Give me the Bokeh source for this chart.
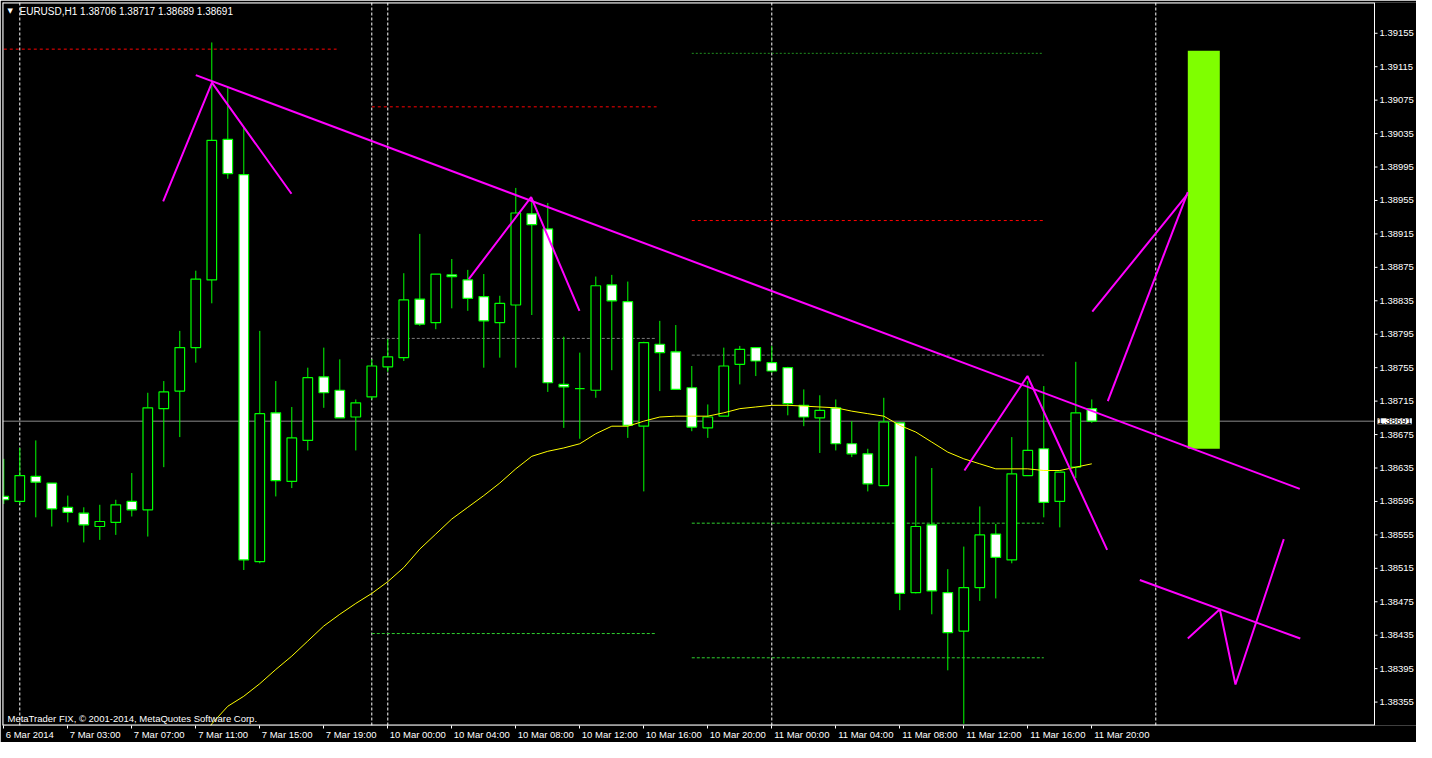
from bokeh.plotting import figure
from bokeh.models import FixedTicker, Label, Span, Range1d, CustomJSTickFormatter
from bokeh.embed import file_html
from bokeh.resources import INLINE
from bokeh.core.properties import value

# ---------------- data (EURUSD H1, bar index 0 = 6 Mar 23:00) ----------------
opens = [1.38601, 1.38595, 1.38625, 1.38617, 1.38588, 1.38581, 1.38565, 1.38570, 1.38595, 1.38585,
         1.38706, 1.38727, 1.38779, 1.38860, 1.39028, 1.38986, 1.38523, 1.38701, 1.38619, 1.38668,
         1.38744, 1.38728, 1.38696, 1.38720, 1.38756, 1.38767, 1.38837, 1.38809, 1.38866, 1.38860,
         1.38840, 1.38809, 1.38830, 1.38939, 1.38921, 1.38735, 1.38730, 1.38728, 1.38854, 1.38834,
         1.38685, 1.38783, 1.38774, 1.38731, 1.38683, 1.38697, 1.38759, 1.38779, 1.38761, 1.38755,
         1.38710, 1.38695, 1.38707, 1.38664, 1.38652, 1.38614, 1.38689, 1.38486, 1.38567, 1.38486,
         1.38440, 1.38492, 1.38556, 1.38525, 1.38626, 1.38658, 1.38595, 1.38636, 1.38706]
highs = [1.38646, 1.38659, 1.38668, 1.38617, 1.38602, 1.38588, 1.38591, 1.38597, 1.38629, 1.38725,
         1.38739, 1.38799, 1.38871, 1.39144, 1.39090, 1.39042, 1.38799, 1.38739, 1.38708, 1.38755,
         1.38779, 1.38765, 1.38717, 1.38765, 1.38789, 1.38868, 1.38915, 1.38867, 1.38885, 1.38872,
         1.38867, 1.38841, 1.38970, 1.38958, 1.38952, 1.38792, 1.38773, 1.38864, 1.38866, 1.38858,
         1.38786, 1.38811, 1.38806, 1.38757, 1.38711, 1.38779, 1.38781, 1.38779, 1.38781, 1.38756,
         1.38729, 1.38722, 1.38717, 1.38691, 1.38658, 1.38719, 1.38690, 1.38649, 1.38635, 1.38514,
         1.38541, 1.38589, 1.38568, 1.38672, 1.38739, 1.38733, 1.38630, 1.38762, 1.38717]
lows = [1.38592, 1.38592, 1.38576, 1.38565, 1.38570, 1.38546, 1.38549, 1.38555, 1.38577, 1.38553,
        1.38636, 1.38672, 1.38761, 1.38832, 1.38981, 1.38513, 1.38521, 1.38601, 1.38611, 1.38656,
        1.38707, 1.38695, 1.38656, 1.38717, 1.38750, 1.38763, 1.38805, 1.38801, 1.38826, 1.38823,
        1.38755, 1.38767, 1.38755, 1.38818, 1.38726, 1.38683, 1.38670, 1.38719, 1.38752, 1.38671,
        1.38607, 1.38727, 1.38729, 1.38679, 1.38671, 1.38697, 1.38735, 1.38745, 1.38749, 1.38698,
        1.38685, 1.38653, 1.38656, 1.38648, 1.38607, 1.38614, 1.38465, 1.38485, 1.38460, 1.38393,
        1.38329, 1.38476, 1.38479, 1.38521, 1.38626, 1.38576, 1.38564, 1.38623, 1.38689]
closes = [1.38597, 1.38626, 1.38618, 1.38586, 1.38582, 1.38567, 1.38571, 1.38591, 1.38585, 1.38707,
          1.38726, 1.38779, 1.38861, 1.39027, 1.38987, 1.38525, 1.38700, 1.38620, 1.38671, 1.38743,
          1.38725, 1.38695, 1.38713, 1.38757, 1.38768, 1.38836, 1.38807, 1.38867, 1.38864, 1.38838,
          1.38811, 1.38832, 1.38940, 1.38926, 1.38737, 1.38732, 1.38730, 1.38853, 1.38835, 1.38686,
          1.38785, 1.38773, 1.38729, 1.38684, 1.38696, 1.38757, 1.38777, 1.38763, 1.38751, 1.38712,
          1.38696, 1.38704, 1.38664, 1.38652, 1.38616, 1.38690, 1.38485, 1.38565, 1.38488, 1.38438,
          1.38492, 1.38555, 1.38528, 1.38628, 1.38656, 1.38594, 1.38630, 1.38701, 1.38691]

# moving average (yellow), from bar 12 to bar 68
ma_first_bar = 12
ma_values = [1.38298, 1.38329, 1.38350, 1.38362, 1.38377, 1.38394, 1.38410, 1.38428, 1.38446, 1.38460,
             1.38473, 1.38485, 1.38499, 1.38516, 1.38538, 1.38556, 1.38574, 1.38588, 1.38602, 1.38617,
             1.38634, 1.38649, 1.38655, 1.38659, 1.38664, 1.38676, 1.38685, 1.38685, 1.38691, 1.38696,
             1.38697, 1.38697, 1.38697, 1.38701, 1.38706, 1.38708, 1.38710, 1.38710, 1.38709, 1.38708,
             1.38707, 1.38703, 1.38700, 1.38697, 1.38686, 1.38678, 1.38666, 1.38654, 1.38646, 1.38640,
             1.38634, 1.38634, 1.38634, 1.38632, 1.38632, 1.38636, 1.38640]

# time axis labels
time_tick_bars = [0, 4, 8, 12, 16, 20, 24, 28, 32, 36, 40, 44, 48, 52, 56, 60, 64, 68]
time_tick_labels = ["6 Mar 2014", "7 Mar 03:00", "7 Mar 07:00", "7 Mar 11:00", "7 Mar 15:00",
                    "7 Mar 19:00", "10 Mar 00:00", "10 Mar 04:00", "10 Mar 08:00", "10 Mar 12:00",
                    "10 Mar 16:00", "10 Mar 20:00", "11 Mar 00:00", "11 Mar 04:00", "11 Mar 08:00",
                    "11 Mar 12:00", "11 Mar 16:00", "11 Mar 20:00"]
# price scale labels
price_ticks = [1.38315, 1.38355, 1.38395, 1.38435, 1.38475, 1.38515, 1.38555, 1.38595, 1.38635,
               1.38675, 1.38715, 1.38755, 1.38795, 1.38835, 1.38875, 1.38915, 1.38955, 1.38995,
               1.39035, 1.39075, 1.39115, 1.39155]
price_labels = ["1.38315", "1.38355", "1.38395", "1.38435", "1.38475", "1.38515", "1.38555",
                "1.38595", "1.38635", "1.38675", "1.38715", "1.38755", "1.38795", "1.38835",
                "1.38875", "1.38915", "1.38955", "1.38995", "1.39035", "1.39075", "1.39115",
                "1.39155"]

# period separators (bar positions)
separator_bars = [1, 23, 24, 48, 72]

# bid price
bid_price = 1.38691
bid_text = "1.38691"
header_text = "EURUSD,H1  1.38706 1.38717 1.38689 1.38691"
copyright_text = "MetaTrader FIX, \u00a9 2001-2014, MetaQuotes Software Corp."

# pivot-like dashed levels
level_start = [0.0, 23.0, 23.0, 23.0, 43.0, 43.0, 43.0, 43.0, 43.0]
level_end = [20.8, 40.8, 40.8, 40.8, 65.0, 65.0, 65.0, 65.0, 65.0]
level_price = [1.39136, 1.39067, 1.38790, 1.38437, 1.39131, 1.38931, 1.38770, 1.38569, 1.38408]
level_kind = ["R", "R", "P", "S", "T", "R", "P", "S", "S"]

# hand-drawn magenta trend lines
trend_main_x = [12.0, 81.0]
trend_main_y = [1.39105, 1.38610]
peak1_x = [9.96, 13.01, 17.98]
peak1_y = [1.38954, 1.39096, 1.38963]
peak2_x = [29.06, 32.96, 35.98]
peak2_y = [1.38861, 1.38959, 1.38823]
peak3_x = [60.04, 63.98, 68.96]
peak3_y = [1.38632, 1.38745, 1.38537]
proj_a_x = [68.03, 73.96]
proj_a_y = [1.38822, 1.38962]
proj_b_x = [69.0, 74.0]
proj_b_y = [1.38715, 1.38965]
low_line_x = [71.0, 81.03]
low_line_y = [1.38501, 1.38431]
zig_x = [74.0, 76.0, 76.98, 80.0]
zig_y = [1.38431, 1.38466, 1.38376, 1.38550]
# target box
box_left, box_right = 74.0, 76.0
box_top, box_bottom = 1.39134, 1.38658

# ---------------- layout constants ----------------
FIG_W, FIG_H = 1416, 742
LEFT_PX = 2            # frame left edge
BAR_PX = 16.0          # pixels per bar
BORDER_PX = 1374       # right border of the chart window (price scale to the right)
X0 = -0.081
X1 = X0 + (FIG_W - LEFT_PX) / BAR_PX
BORDER_X = X0 + (BORDER_PX - LEFT_PX) / BAR_PX
Y0, Y1 = 1.383270, 1.391918
FONT = "Liberation Sans"
FS = "9.5px"
GREEN = "#00ff00"

p = figure(width=FIG_W, height=FIG_H, x_range=Range1d(X0, X1), y_range=Range1d(Y0, Y1),
           y_axis_location=None, output_backend="svg", toolbar_location=None,
           background_fill_color="black", border_fill_color="black",
           outline_line_color=None,
           min_border_left=LEFT_PX, min_border_top=2, min_border_right=0, min_border_bottom=14)
p.grid.visible = False

# separators
for b in separator_bars:
    p.add_layout(Span(location=b, dimension="height", line_color="white", line_width=1,
                      line_dash="3 2", level="underlay"))

# bid line (chart area only)
p.segment(x0=[X0], y0=[bid_price], x1=[BORDER_X], y1=[bid_price], line_color="#8a8a8a", line_width=1)

# levels
kind_color = {"R": "#ff0000", "P": "#7a7a7a", "S": "#2fd02f", "T": "#1f8f1f"}
kind_dash = {"R": "3 3", "P": "3 2", "S": "3 2", "T": "2 2"}
for xs, xe, lv, k in zip(level_start, level_end, level_price, level_kind):
    p.segment(x0=[xs], y0=[lv], x1=[xe], y1=[lv], line_color=kind_color[k], line_width=1,
              line_dash=kind_dash[k])

# candles
idx = list(range(len(opens)))
tops = [max(o, c) for o, c in zip(opens, closes)]
bots = [min(o, c) for o, c in zip(opens, closes)]
fills = ["white" if c < o else "black" for o, c in zip(opens, closes)]
p.segment(x0=idx, y0=highs, x1=idx, y1=lows, line_color=GREEN, line_width=1)
p.vbar(x=idx, width=0.6, top=tops, bottom=bots, fill_color=fills, line_color=GREEN, line_width=1.2)

# moving average
ma_bars = list(range(ma_first_bar, ma_first_bar + len(ma_values)))
p.line(ma_bars, ma_values, line_color="#ffff00", line_width=1)

# target box
p.quad(left=[box_left], right=[box_right], top=[box_top], bottom=[box_bottom],
       fill_color="#7fff00", line_color=None)

# magenta drawings
for xs, ys in [(trend_main_x, trend_main_y), (peak1_x, peak1_y), (peak2_x, peak2_y),
               (peak3_x, peak3_y), (proj_a_x, proj_a_y), (proj_b_x, proj_b_y),
               (low_line_x, low_line_y), (zig_x, zig_y)]:
    p.line(xs, ys, line_color="#ff00ff", line_width=2)

# chart window border
p.segment(x0=[X0, X0, X0, BORDER_X], y0=[Y1, Y0, Y0, Y0],
          x1=[BORDER_X, BORDER_X, X0, BORDER_X], y1=[Y1, Y0, Y1, Y1],
          line_color="white", line_width=[2, 2, 2, 1])

# price scale (right of the border)
tick_len = 3 / BAR_PX
p.segment(x0=[BORDER_X] * len(price_ticks), y0=price_ticks,
          x1=[BORDER_X + tick_len] * len(price_ticks), y1=price_ticks,
          line_color="white", line_width=1)
p.text(x=[BORDER_X + 5 / BAR_PX] * len(price_ticks), y=price_ticks, text=price_labels,
       text_color="white", text_font=value(FONT), text_font_size=FS,
       text_baseline="middle", text_align="left")
p.add_layout(Label(x=BORDER_X, y=bid_price, x_offset=3, text=bid_text,
                   text_color="black", text_font=FONT, text_font_size=FS,
                   text_baseline="middle", text_align="left",
                   background_fill_color="white"))

# ---------------- time axis ----------------
cw = {"0": .556, "1": .556, "2": .556, "3": .556, "4": .556, "5": .556, "6": .556, "7": .556,
      "8": .556, "9": .556, " ": .278, ":": .278, "M": .833, "a": .556, "r": .333}
def text_w(s):
    return sum(cw.get(ch, .556) for ch in s) * 9.5
centers = [b + (2 + text_w(t) / 2) / BAR_PX for b, t in zip(time_tick_bars, time_tick_labels)]

xa = p.xaxis[0]
xa.ticker = FixedTicker(ticks=centers, minor_ticks=time_tick_bars)
xa.formatter = CustomJSTickFormatter(args=dict(c=centers, l=time_tick_labels), code="""
    for (let i = 0; i < c.length; i++) { if (Math.abs(c[i] - tick) < 1e-6) return l[i]; }
    return '';
""")
xa.axis_line_color = None
xa.major_tick_out = 0
xa.major_tick_in = 0
xa.minor_tick_out = 3
xa.minor_tick_in = 0
xa.minor_tick_line_color = "white"
xa.major_label_text_color = "white"
xa.major_label_text_font = FONT
xa.major_label_text_font_size = FS
xa.major_label_standoff = 0
xa.axis_label_standoff = 0

# header & copyright
p.add_layout(Label(x=X0, y=Y1, x_offset=5, y_offset=-4, text="\u25bc", text_color="white",
                   text_font="DejaVu Sans", text_font_size="7px", text_baseline="top"))
p.add_layout(Label(x=X0, y=Y1, x_offset=17, y_offset=-3, text=header_text, text_color="white",
                   text_font=FONT, text_font_size="10px", text_baseline="top"))
p.add_layout(Label(x=X0, y=Y0, x_offset=5, y_offset=2, text=copyright_text, text_color="white",
                   text_font=FONT, text_font_size="9.5px", text_baseline="bottom"))

open("out.html", "w").write(file_html(p, INLINE))
